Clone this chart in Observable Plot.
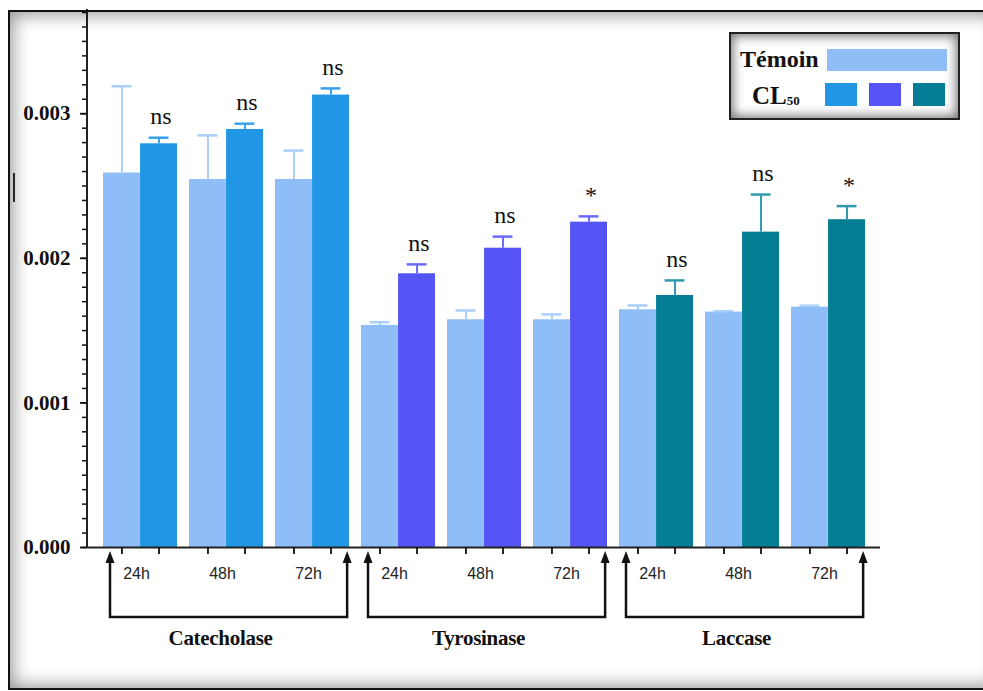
<!DOCTYPE html>
<html>
<head>
<meta charset="utf-8">
<script src="https://cdn.jsdelivr.net/npm/d3@7"></script>
<script src="https://cdn.jsdelivr.net/npm/@observablehq/plot@0.6"></script>
<style>
  body { margin: 0; background: #fff; }
  #wrap { position: relative; width: 983px; height: 691px; overflow: hidden; background: #fff; }
  #chart { position: absolute; left: 0; top: 0; }
  #frame { position: absolute; left: 8px; top: 10px; width: 990px; height: 676px;
           border: 2.5px solid #111; box-shadow: inset 0 0 18px 2px rgba(0,0,0,0.45); pointer-events: none; }
  #mark { position: absolute; left: 13px; top: 173px; width: 2px; height: 29px; background: #333; }
  #legend { position: absolute; left: 729px; top: 32px; width: 227px; height: 84px;
            border: 2px solid #222; box-shadow: inset 0 0 11px 2px rgba(0,0,0,0.55); background: #fff;
            font-family: "Liberation Serif", "Times New Roman", serif; font-weight: bold; color: #111; }
  .lg-row { position: absolute; left: 0; display: flex; align-items: center; }
  .sw { position: absolute; }
</style>
</head>
<body>
<div id="wrap">
  <div id="chart"></div>
  <div id="mark"></div>
  <div id="legend"></div>
  <div id="frame"></div>
</div>
<script>
// ---- data ----
const groups = ["Catecholase", "Tyrosinase", "Laccase"];
const times = ["24h", "48h", "72h"];
const temoin    = [0.00259, 0.002545, 0.002545, 0.001536, 0.001575, 0.001575, 0.001644, 0.001628, 0.001662];
const temoinErr = [0.0006, 0.000305, 0.0002, 0.000022, 0.000064, 0.000037, 0.00003, 0.000006, 0.00001];
const cl50      = [0.002792, 0.002891, 0.003129, 0.001893, 0.00207, 0.00225, 0.001743, 0.002181, 0.002267];
const cl50Err   = [0.000042, 0.00004, 0.000046, 0.000065, 0.00008, 0.00004, 0.000104, 0.00026, 0.000094];
const signif    = ["ns", "ns", "ns", "ns", "ns", "*", "ns", "ns", "*"];
const yTicks = [0, 0.001, 0.002, 0.003];
const legendTemoin = "Témoin";
const legendCL = "CL";
const legendCLsub = "50";

// ---- styles ----
const temoinColor = "#8fbdf7";
const temoinErrColor = "#a9cffb";
const groupColors = ["#2196e5", "#5555f5", "#057d94"];
const groupErrColors = ["#3aa2ec", "#6b6bf7", "#2f9aae"];

const rows = [];
groups.forEach((g, gi) => times.forEach((t, ti) => {
  const i = gi * times.length + ti;
  rows.push({key: g + " " + t, group: g, time: t, t: temoin[i], tErr: temoinErr[i], c: cl50[i], cErr: cl50Err[i], sig: signif[i]});
}));
const keys = rows.map(r => r.key);

const W = 983, H = 691, ml = 87, mr = 103, mt = 12, mb = 144;
const pIn = 0.14, pOut = 0.17;
const bw = d3.scaleBand().domain(keys).range([ml, W - mr]).paddingInner(pIn).paddingOuter(pOut).bandwidth();
const half = bw / 2, q = bw / 4, cap = 10;

function annotations(index, scales, values, dims) {
  const g = d3.create("svg:g");
  const x = scales.x;
  const y0 = dims.height - dims.marginBottom;
  g.append("line").attr("x1", dims.marginLeft).attr("x2", dims.marginLeft)
    .attr("y1", dims.marginTop - 3).attr("y2", y0 + 1).attr("stroke", "#222").attr("stroke-width", 2);
  groups.forEach(gr => {
    const ks = rows.filter(r => r.group === gr).map(r => r.key);
    const L = x(ks[0]) + 7, R = x(ks[ks.length - 1]) + bw - 2;
    const tipY = y0 + 4, baseY = y0 + 70;
    g.append("path").attr("d", `M${L},${tipY + 10}V${baseY}H${R}V${tipY + 10}`)
      .attr("fill", "none").attr("stroke", "#111").attr("stroke-width", 2.5);
    for (const ax of [L, R]) {
      g.append("path").attr("d", `M${ax},${tipY}L${ax - 4.5},${tipY + 12}L${ax + 4.5},${tipY + 12}Z`).attr("fill", "#111");
    }
    g.append("text").attr("x", (L + R) / 2 - 8).attr("y", y0 + 93)
      .attr("text-anchor", "middle").attr("dominant-baseline", "middle")
      .attr("font-family", "Liberation Serif, serif").attr("font-weight", "bold").attr("font-size", 21)
      .attr("letter-spacing", "-0.3px")
      .attr("fill", "#111").text(gr);
  });
  return g.node();
}

const plot = Plot.plot({
  width: W, height: H,
  marginLeft: ml, marginRight: mr, marginTop: mt, marginBottom: mb,
  style: {fontFamily: "Liberation Serif, serif", background: "transparent", color: "#111", overflow: "visible"},
  x: {type: "band", domain: keys, paddingInner: pIn, paddingOuter: pOut, axis: null},
  y: {domain: [0, 0.0037], axis: null},
  color: {domain: groups, range: groupColors},
  marks: [
    Plot.barY(rows, {x: "key", y: "t", fill: temoinColor, insetRight: half}),
    Plot.barY(rows, {x: "key", y: "c", fill: "group", insetLeft: half}),
    Plot.ruleX(rows, {x: "key", y1: "t", y2: d => d.t + d.tErr, dx: -q, stroke: temoinErrColor, strokeWidth: 2}),
    Plot.tickY(rows, {x: "key", y: d => d.t + d.tErr, insetLeft: q - cap, insetRight: 3 * q - cap, stroke: temoinErrColor, strokeWidth: 2.5}),
    Plot.ruleX(rows, {x: "key", y1: "c", y2: d => d.c + d.cErr, dx: q, stroke: d => groupErrColors[groups.indexOf(d.group)], strokeWidth: 2}),
    Plot.tickY(rows, {x: "key", y: d => d.c + d.cErr, insetLeft: 3 * q - cap, insetRight: q - cap, stroke: d => groupErrColors[groups.indexOf(d.group)], strokeWidth: 2.5}),
    Plot.text(rows, {x: "key", y: d => d.c + d.cErr, text: "sig", dx: q + 2, dy: -21, fontSize: 24, fill: "#111"}),
    Plot.ruleY([0], {stroke: "#222", strokeWidth: 2}),
    Plot.axisY({ticks: yTicks, tickSize: 7, tickPadding: 10, tickFormat: d3.format(".3f"), fontSize: 21, fontWeight: "bold", strokeWidth: 1.8, label: null}),
    Plot.axisY({ticks: d3.range(0, 38).map(i => i / 10000), tickSize: 5, tickFormat: () => "", strokeWidth: 1.5, label: null}),
    Plot.axisX({tickSize: 7, tickFormat: () => "", dx: -q, strokeWidth: 1.8, label: null}),
    Plot.axisX({tickSize: 7, tickFormat: () => "", dx: q, strokeWidth: 1.8, label: null}),
    Plot.text(rows, {x: "key", text: "time", frameAnchor: "bottom", dy: 31, dx: -4, fontSize: 16, fontFamily: "Liberation Sans, sans-serif", fill: "#222"}),
    annotations
  ]
});
document.getElementById("chart").appendChild(plot);

// ---- legend ----
const lg = document.getElementById("legend");
const t1 = document.createElement("div");
t1.className = "lg-row"; t1.style.left = "9px"; t1.style.top = "10px"; t1.style.height = "30px"; t1.style.fontSize = "24px";
t1.textContent = legendTemoin;
lg.appendChild(t1);
const s1 = document.createElement("div");
s1.className = "sw"; Object.assign(s1.style, {left: "96px", top: "15px", width: "120px", height: "22px", background: temoinColor});
lg.appendChild(s1);
const t2 = document.createElement("div");
t2.className = "lg-row"; t2.style.left = "21px"; t2.style.top = "46px"; t2.style.height = "32px"; t2.style.fontSize = "25px";
t2.innerHTML = legendCL + '<span style="font-size:13px;position:relative;top:5px;">' + legendCLsub + '</span>';
lg.appendChild(t2);
groupColors.forEach((c, i) => {
  const s = document.createElement("div");
  s.className = "sw";
  Object.assign(s.style, {left: (94 + i * 44) + "px", top: "49px", width: "32px", height: "23px", background: c});
  lg.appendChild(s);
});
</script>
</body>
</html>
